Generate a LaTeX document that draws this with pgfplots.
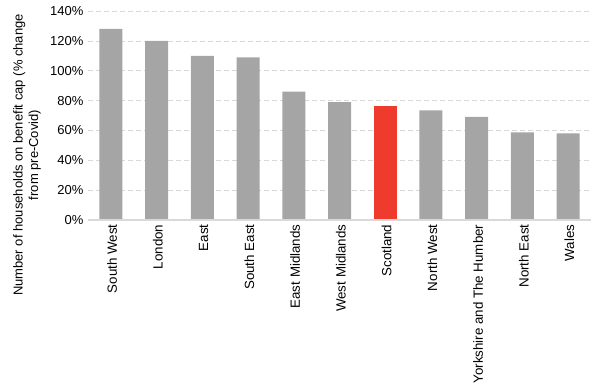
\documentclass[border=0pt]{standalone}
\usepackage{fontspec}
\setmainfont{Liberation Sans}
\usepackage{pgfplots}
\pgfplotsset{compat=1.18}
\definecolor{bargray}{HTML}{A5A5A5}
\definecolor{barred}{HTML}{EE3B2D}
\definecolor{gridgray}{HTML}{D9D9D9}
\begin{document}
\begin{tikzpicture}
\fontsize{9.75}{11.7}\selectfont
\useasboundingbox (0,0) rectangle (450pt,293.25pt);
\begin{axis}[
  at={(66pt,128.25pt)}, anchor=south west,
  scale only axis, width=377.25pt, height=156.75pt,
  ymin=0, ymax=140, ytick={0,20,...,140},
  xmin=-0.5, xmax=10.5,
  xtick={0,...,10},
  xticklabels={South West,London,East,South East,East Midlands,West Midlands,Scotland,North West,Yorkshire and The Humber,North East,Wales},
  xticklabel style={rotate=90, anchor=east, yshift=-1pt, font=\fontsize{10}{12}\selectfont},
  yticklabel style={anchor=east, font=\fontsize{9.75}{11.7}\selectfont},
  yticklabel={\pgfmathprintnumber{\tick}\%\hspace{5pt}},
  /pgf/number format/assume math mode=true,
  axis line style={draw=none},
  major tick length=0pt,
  ymajorgrids, grid style={gridgray, dashed, dash pattern=on 4pt off 2pt},
  ybar, bar width=17.25pt,
  clip=false,
]
\addplot[fill=bargray, draw=none, bar shift=0pt] coordinates {
(0,128) (1,120) (2,110) (3,109) (4,86) (5,79) (7,73.5) (8,69) (9,58.7) (10,58)};
\addplot[fill=barred, draw=none, bar shift=0pt] coordinates {(6,76.4)};
\draw[gridgray, line width=0.9pt] (rel axis cs:0,0) -- (rel axis cs:1,0);
\end{axis}
\node[rotate=90, align=center, font=\fontsize{9.75}{11.7}\selectfont] at (20.25pt,177pt) {Number of households on benefit cap (\% change\\from pre-Covid)};
\end{tikzpicture}
\end{document}
